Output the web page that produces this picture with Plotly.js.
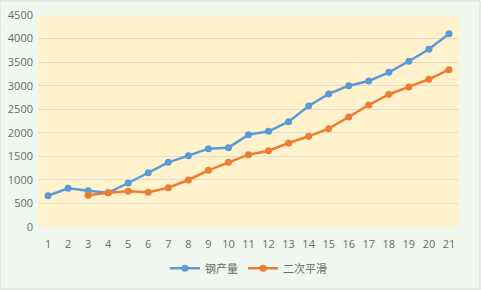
<!DOCTYPE html>
<html><head><meta charset="utf-8">
<script src="https://cdn.plot.ly/plotly-3.0.1.min.js"></script>
<style>html,body{margin:0;padding:0;background:#F0F7EE;}#c{width:481px;height:290px;}</style>
</head><body><div id="c"></div>
<script>
const categories = ['1','2','3','4','5','6','7','8','9','10','11','12','13','14','15','16','17','18','19','20','21'];
const steelOutput = [664, 821, 771, 725, 934, 1153, 1373, 1514, 1663, 1684, 1960, 2031, 2236, 2569, 2824, 3000, 3100, 3284, 3518, 3772, 4104];
const doubleSmooth = [null, null, 672, 728, 758, 737, 834, 998, 1203, 1373, 1535, 1620, 1783, 1925, 2087, 2335, 2590, 2817, 2972, 3136, 3340];
const seriesNames = ['钢产量', '二次平滑'];

const traces = [
  {x: categories, y: steelOutput, name: seriesNames[0], type: 'scatter', mode: 'lines+markers',
   line: {color: '#5B9BD5', width: 2.5}, marker: {color: '#5B9BD5', size: 7}},
  {x: categories, y: doubleSmooth, name: seriesNames[1], type: 'scatter', mode: 'lines+markers',
   line: {color: '#ED7D31', width: 2.5}, marker: {color: '#ED7D31', size: 7}}
];
const layout = {
  width: 481, height: 290,
  margin: {l: 38, r: 22, t: 15, b: 63},
  paper_bgcolor: '#F0F7EE', plot_bgcolor: '#FFF2CC',
  font: {family: '"Open Sans", "Noto Sans CJK SC", sans-serif', size: 11, color: '#6B6B6B'},
  xaxis: {type: 'category', range: [-0.5, 20.5], showgrid: false, zeroline: false, showline: false, ticks: '',
          automargin: false, ticklabelstandoff: 9, tickfont: {size: 11, color: '#6B6B6B'}, fixedrange: true},
  yaxis: {range: [0, 4500], dtick: 500, showgrid: true, gridcolor: '#E3DCCB', gridwidth: 1,
          zeroline: false, showline: false, ticks: '', ticklabelstandoff: 4, automargin: false,
          tickfont: {size: 11, color: '#6B6B6B'}, fixedrange: true},
  showlegend: true,
  legend: {orientation: 'h', x: 0.5, xanchor: 'center', yref: 'container', y: 0.075, yanchor: 'middle',
           font: {family: '"Noto Sans CJK SC", sans-serif', size: 11, color: '#6B6B6B'}, bgcolor: 'rgba(0,0,0,0)'},
  shapes: [{type: 'rect', xref: 'paper', yref: 'paper', x0: -38/421, x1: 1 + 21/421, y0: -62/212, y1: 1 + 14/212,
            line: {color: '#D9D9D9', width: 1}, fillcolor: 'rgba(0,0,0,0)', layer: 'below'}]
};
Plotly.newPlot('c', traces, layout, {displayModeBar: false, staticPlot: true});
</script></body></html>
